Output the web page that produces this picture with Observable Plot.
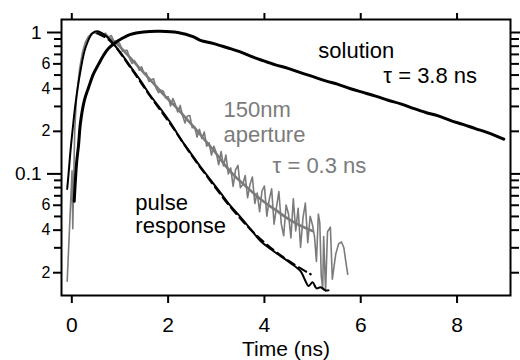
<!DOCTYPE html>
<html><head><meta charset="utf-8">
<script src="https://cdn.jsdelivr.net/npm/d3@7"></script>
<script src="https://cdn.jsdelivr.net/npm/@observablehq/plot@0.6"></script>
<style>body{margin:0;background:#fff;} svg{display:block}</style>
</head><body><div id="chart"></div>
<script>
// ---- data ----
const solutionT = [0.05,0.10,0.14,0.18,0.26,0.35,0.45,0.56,0.66,0.76,0.91,1.05,1.22,1.49,1.84,2.20,2.53,2.67,2.95,3.23,3.47,3.71,3.97,4.23,4.49,4.75,5.01,5.27,5.53,5.79,6.05,6.31,6.57,6.83,7.09,7.35,7.61,7.87,8.12,8.38,8.65,8.97];
const solutionY = [0.064,0.12,0.16,0.23,0.33,0.41,0.51,0.60,0.69,0.77,0.85,0.91,0.97,1.01,1.02,1.00,0.93,0.88,0.835,0.78,0.735,0.68,0.632,0.59,0.558,0.52,0.487,0.455,0.43,0.40,0.377,0.355,0.332,0.313,0.291,0.272,0.257,0.238,0.224,0.209,0.195,0.176];

const pulseT = [-0.096,-0.062,-0.027,0.015,0.077,0.181,0.285,0.424,0.528,0.700,0.804,1.011,1.219,1.427,1.635,1.842,2.050,2.258,2.465,2.673,2.881,3.089,3.296,3.504,3.712,3.919,4.127,4.335,4.543,4.750,4.854,4.916,5.000,5.082,5.165,5.269,5.331];
const pulseY = [0.0782,0.105,0.146,0.202,0.314,0.538,0.783,0.984,1.02,0.952,0.878,0.721,0.574,0.457,0.357,0.289,0.230,0.177,0.141,0.112,0.0907,0.0733,0.0593,0.0495,0.0407,0.0335,0.0294,0.0262,0.0234,0.0205,0.0174,0.0161,0.0171,0.0155,0.0158,0.0150,0.0150];

const pulseFitT = [0.53,0.80,1.22,1.64,2.05,2.47,2.88,3.30,3.71,4.13,4.54,4.96];
const pulseFitY = [0.99,0.87,0.565,0.35,0.225,0.138,0.089,0.058,0.0405,0.030,0.0238,0.0195];

const apertureFitT = [0.534,0.700,0.908,1.115,1.323,1.531,1.738,1.946,2.154,2.362,2.569,2.777,2.985,3.192,3.400,3.608,3.815,4.023,4.231,4.439,4.646,4.854,5.000];
const apertureFitY = [1.0,0.952,0.849,0.721,0.603,0.504,0.421,0.352,0.299,0.2495,0.2085,0.171,0.141,0.114,0.0953,0.0822,0.0710,0.0623,0.0556,0.0495,0.0449,0.0414,0.0394];

const apertureT = [-0.096,0.005,0.02,0.06,0.10,0.16,0.22,0.28,0.34,0.40,0.46,0.52,0.58,0.64,0.70,0.76,0.82,0.88,0.94,
  1.00,1.05,1.10,1.15,1.20,1.25,1.30,1.35,1.40,1.45,1.50,1.55,1.60,1.65,1.70,1.75,1.80,1.85,1.90,1.95,2.00,
  2.05,2.10,2.15,2.20,2.25,2.30,2.35,2.40,2.45,2.50,2.55,2.60,2.65,2.70,2.75,2.80,2.85,2.90,2.95,3.00,
  3.05,3.10,3.15,3.20,3.25,3.30,3.35,3.40,3.45,3.50,3.55,3.60,3.65,3.70,3.75,3.80,3.85,3.90,3.95,4.00,
  4.05,4.10,4.15,4.20,4.25,4.30,4.35,4.40,4.45,4.50,4.55,4.60,4.65,4.70,4.75,4.80,4.85,4.90,4.95,5.00,
  5.04,5.08,5.12,5.15,5.18,5.21,5.23,5.27,5.31,5.37,5.41,5.48,5.54,5.60,5.65,5.69,5.73];
const apertureY = [0.0174,0.105,0.041,0.20,0.36,0.55,0.72,0.85,0.93,0.98,1.00,0.98,1.01,0.97,0.99,0.93,0.95,0.86,0.88,
  0.828,0.736,0.745,0.749,0.657,0.604,0.633,0.595,0.541,0.572,0.513,0.516,0.450,0.463,0.470,0.404,0.375,0.391,0.384,0.345,0.352,
  0.302,0.341,0.310,0.274,0.305,0.259,0.229,0.257,0.259,0.212,0.216,0.182,0.207,0.178,0.198,0.157,0.166,0.136,0.157,0.141,
  0.116,0.144,0.114,0.136,0.0997,0.110,0.0816,0.1067,0.115,0.0798,0.084,0.0975,0.0678,0.084,0.0951,0.0617,0.0732,0.0541,0.076,0.082,
  0.0503,0.0657,0.0784,0.0441,0.0579,0.075,0.0443,0.0365,0.0603,0.0521,0.0353,0.0666,0.0395,0.0572,0.0302,0.0486,0.0621,0.0326,0.0501,0.0433,
  0.036,0.024,0.052,0.045,0.019,0.0155,0.036,0.0148,0.039,0.042,0.018,0.027,0.032,0.033,0.030,0.024,0.0195];

const xTicks = [0,2,4,6,8];
const yMajor = [1,0.1];
const yMajorLabels = ["1","0.1"];
const yMinorLabeled = [0.6,0.4,0.2,0.06,0.04,0.02];
const yMinorLabels = ["6","4","2","6","4","2"];
const yMinor = [0.9,0.8,0.7,0.5,0.3,0.09,0.08,0.07,0.05,0.03];

const blackLabels = [
  {text:"solution", x:5.12, y:0.665},
  {text:"τ = 3.8 ns", x:6.47, y:0.436},
  {text:"pulse", x:1.32, y:0.0552},
  {text:"response", x:1.32, y:0.038}
];
const grayLabels = [
  {text:"150nm", x:3.15, y:0.251},
  {text:"aperture", x:3.15, y:0.167},
  {text:"τ = 0.3 ns", x:4.17, y:0.1008}
];

const zip = (T, Y) => T.map((t, i) => ({t, v: Y[i]}));
const GRAY = "#7b7b7b";

const chart = Plot.plot({
  width: 520, height: 360,
  marginTop: 19, marginBottom: 65, marginLeft: 61, marginRight: 10,
  style: {fontFamily: "'Liberation Sans', Arial, sans-serif", background: "#fff", color: "#000", overflow: "visible"},
  x: {domain: [-0.214, 9.11], label: null},
  y: {type: "log", domain: [0.0138, 1.236], label: null},
  marks: [
    Plot.line(zip(apertureT, apertureY), {x: "t", y: "v", stroke: GRAY, strokeWidth: 1.6}),
    Plot.line(zip(apertureFitT, apertureFitY), {x: "t", y: "v", stroke: GRAY, strokeWidth: 2.6, curve: "catmull-rom"}),
    Plot.line(zip(pulseT, pulseY), {x: "t", y: "v", stroke: "#000", strokeWidth: 2, curve: "catmull-rom"}),
    Plot.line(zip(pulseFitT, pulseFitY), {x: "t", y: "v", stroke: "#000", strokeWidth: 2.2, strokeDasharray: "8,5", curve: "catmull-rom"}),
    Plot.line(zip(solutionT, solutionY), {x: "t", y: "v", stroke: "#000", strokeWidth: 3, curve: "catmull-rom"}),
    // left axis ticks
    Plot.axisY(yMajor, {anchor: "left", tickSize: 14, fill: "none", strokeWidth: 2, label: null}),
    Plot.axisY(yMinorLabeled, {anchor: "left", tickSize: 8, fill: "none", strokeWidth: 2, label: null}),
    Plot.axisY(yMinor, {anchor: "left", tickSize: 7, fill: "none", strokeWidth: 2, label: null}),
    // left axis labels
    Plot.text(yMajor, {y: d => d, text: (d, i) => yMajorLabels[i], frameAnchor: "left", dx: -20, textAnchor: "end", lineAnchor: "middle", fontSize: 19, fill: "#000"}),
    Plot.text(yMinorLabeled, {y: d => d, text: (d, i) => yMinorLabels[i], frameAnchor: "left", dx: -11, textAnchor: "end", lineAnchor: "middle", fontSize: 16, fill: "#000"}),
    // right axis (ticks only)
    Plot.axisY(yMajor, {anchor: "right", tickSize: 12, fill: "none", strokeWidth: 2, label: null}),
    Plot.axisY(yMinorLabeled.concat(yMinor), {anchor: "right", tickSize: 8, fill: "none", strokeWidth: 2, label: null}),
    // bottom and top axes
    Plot.axisX(xTicks, {anchor: "bottom", tickSize: 8, tickPadding: 14, fontSize: 21, strokeWidth: 2, label: null}),
    Plot.axisX(xTicks, {anchor: "top", tickSize: 7, fill: "none", strokeWidth: 2, label: null}),
    Plot.frame({stroke: "#000", strokeWidth: 2}),
    Plot.text(["Time (ns)"], {frameAnchor: "bottom", dy: 60, lineAnchor: "bottom", fontSize: 21, fill: "#000"}),
    Plot.text(blackLabels, {x: "x", y: "y", text: "text", textAnchor: "start", lineAnchor: "bottom", fontSize: 22, fill: "#000"}),
    Plot.text(grayLabels, {x: "x", y: "y", text: "text", textAnchor: "start", lineAnchor: "bottom", fontSize: 22, fill: GRAY})
  ]
});
document.getElementById("chart").appendChild(chart);
</script>
</body></html>
